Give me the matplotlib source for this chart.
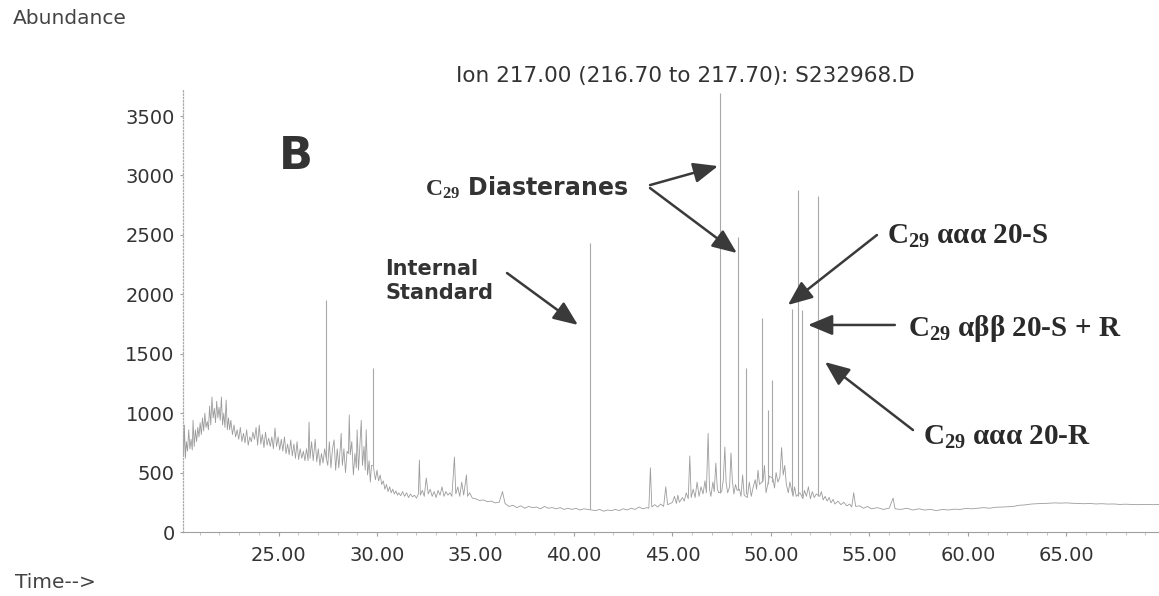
import numpy as np
import matplotlib
matplotlib.use('Agg')
import matplotlib.pyplot as plt

# m/z 217 ion chromatogram, run S232968.D
# noisy hump at the start of the run (time in min, abundance)
early_trace = [
    (20.10, 600), (20.14, 880), (20.18, 640), (20.22, 900), (20.27, 620), (20.32, 760), (20.38, 680),
    (20.44, 860), (20.50, 700), (20.56, 780), (20.62, 690), (20.66, 940), (20.72, 720), (20.78, 860),
    (20.84, 760), (20.90, 880), (20.96, 800), (21.02, 920), (21.08, 820), (21.14, 960), (21.20, 850),
    (21.26, 1000), (21.32, 880), (21.38, 930), (21.44, 860), (21.50, 1060), (21.56, 900), (21.62, 1136),
    (21.68, 960), (21.74, 1040), (21.80, 920), (21.86, 1100), (21.92, 960), (21.98, 1050), (22.04, 940),
    (22.10, 1136), (22.16, 900), (22.22, 1000), (22.28, 880), (22.34, 1110), (22.40, 860), (22.46, 960),
    (22.52, 860), (22.58, 940), (22.66, 820), (22.74, 900), (22.82, 800), (22.90, 860), (22.98, 780),
    (23.06, 880), (23.14, 760), (23.22, 830), (23.30, 750), (23.38, 860), (23.46, 730), (23.54, 800),
    (23.62, 760), (23.70, 840), (23.78, 780), (23.86, 880), (23.94, 730), (24.02, 900), (24.10, 740),
    (24.18, 820), (24.26, 710), (24.34, 840), (24.42, 730), (24.50, 790), (24.58, 720), (24.66, 800),
    (24.74, 700), (24.82, 875), (24.90, 720), (24.98, 800), (25.06, 690), (25.14, 780), (25.22, 680),
    (25.30, 800), (25.38, 660), (25.46, 740), (25.54, 650), (25.62, 775), (25.70, 640), (25.78, 740),
    (25.86, 620), (25.94, 760), (26.02, 610), (26.10, 700), (26.18, 620), (26.26, 680), (26.34, 600),
    (26.42, 700), (26.50, 600), (26.55, 925), (26.60, 620), (26.68, 760), (26.76, 600), (26.86, 780),
    (26.94, 590), (27.02, 700), (27.10, 560), (27.18, 660), (27.26, 580), (27.34, 700), (27.42, 620),
    (27.50, 560), (27.58, 760), (27.66, 540), (27.74, 700), (27.82, 775), (27.90, 520), (27.98, 700),
    (28.06, 540), (28.14, 720), (28.18, 830), (28.24, 560), (28.32, 700), (28.40, 500), (28.48, 680),
    (28.55, 660), (28.59, 985), (28.64, 650), (28.72, 760), (28.80, 480), (28.88, 660), (28.95, 540),
    (28.99, 860), (29.06, 520), (29.14, 760), (29.20, 940), (29.26, 560), (29.34, 720), (29.40, 520),
    (29.45, 860), (29.52, 480), (29.60, 600), (29.66, 420), (29.72, 560), (29.81, 560), (29.86, 500),
    (29.92, 440), (30.00, 520), (30.08, 430), (30.16, 480), (30.24, 400), (30.32, 430), (30.40, 360),
    (30.48, 400), (30.56, 340), (30.64, 380), (30.72, 330), (30.80, 360), (30.88, 320), (30.96, 345),
    (31.04, 310),
]

# quiet stretch up to the sterane window
mid_trace = [
    (31.10, 330), (31.20, 305), (31.30, 340), (31.40, 300), (31.50, 330), (31.60, 290), (31.70, 320),
    (31.80, 295), (31.90, 310), (32.00, 285), (32.10, 320), (32.15, 605), (32.20, 310), (32.30, 350),
    (32.40, 300), (32.50, 455), (32.60, 320), (32.70, 360), (32.80, 300), (32.90, 340), (33.00, 290),
    (33.10, 350), (33.20, 310), (33.30, 380), (33.40, 300), (33.50, 340), (33.60, 310), (33.70, 330),
    (33.80, 300), (33.93, 630), (34.00, 320), (34.10, 380), (34.20, 300), (34.30, 420), (34.40, 310),
    (34.54, 480), (34.60, 300), (34.70, 330), (34.84, 285), (35.00, 280), (35.20, 265), (35.40, 270),
    (35.60, 255), (35.80, 260), (36.00, 245), (36.20, 250), (36.37, 340), (36.50, 240), (36.70, 215),
    (36.90, 225), (37.10, 205), (37.30, 220), (37.50, 200), (37.70, 215), (37.90, 205), (38.10, 210),
    (38.30, 195), (38.50, 215), (38.70, 200), (38.90, 205), (39.10, 195), (39.30, 205), (39.50, 190),
    (39.70, 200), (39.90, 190), (40.10, 200), (40.30, 185), (40.50, 195), (40.70, 190), (40.90, 185),
    (41.10, 180), (41.30, 190), (41.50, 175), (41.70, 185), (41.90, 180), (42.10, 190), (42.30, 180),
    (42.50, 195), (42.70, 185), (42.90, 200), (43.10, 190), (43.30, 210), (43.50, 195), (43.70, 205),
    (43.80, 200), (43.88, 540), (43.95, 210), (44.10, 230), (44.25, 210), (44.40, 235), (44.55, 215),
    (44.66, 380), (44.75, 230), (44.90, 240),
]

# sterane cluster
cluster_trace = [
    (45.00, 250), (45.10, 300), (45.20, 240), (45.27, 310), (45.35, 250), (45.50, 290), (45.60, 260),
    (45.70, 330), (45.80, 280), (45.88, 640), (45.95, 290), (46.05, 360), (46.15, 290), (46.25, 420),
    (46.35, 300), (46.45, 380), (46.55, 320), (46.65, 430), (46.72, 330), (46.81, 830), (46.88, 360),
    (46.95, 300), (47.05, 420), (47.12, 340), (47.20, 580), (47.28, 360), (47.35, 330), (47.50, 340),
    (47.58, 440), (47.66, 715), (47.72, 420), (47.80, 330), (47.90, 380), (47.97, 665), (48.04, 430),
    (48.12, 320), (48.20, 400), (48.28, 350), (48.40, 360), (48.48, 300), (48.56, 480), (48.64, 310),
    (48.80, 290), (48.90, 420), (49.00, 300), (49.10, 380), (49.20, 440), (49.27, 360), (49.34, 520),
    (49.42, 400), (49.60, 430), (49.67, 560), (49.75, 330), (49.92, 470), (50.10, 450), (50.18, 370),
    (50.26, 500), (50.35, 420), (50.45, 460), (50.54, 710), (50.62, 480), (50.70, 560), (50.78, 400),
    (50.88, 330), (50.96, 420), (51.12, 300), (51.20, 380), (51.28, 300), (51.47, 330), (51.62, 280),
    (51.70, 350), (51.80, 300), (51.90, 380), (52.00, 280), (52.10, 340), (52.20, 290), (52.30, 320),
    (52.48, 300), (52.56, 340), (52.65, 270), (52.75, 300), (52.85, 260), (52.95, 290), (53.05, 245),
    (53.15, 275), (53.25, 235), (53.40, 260), (53.55, 230), (53.70, 250), (53.85, 220), (54.00, 235),
    (54.10, 210), (54.20, 330), (54.30, 215),
]

# late baseline
late_trace = [
    (54.50, 220), (54.70, 200), (54.90, 215), (55.10, 195), (55.40, 205), (55.70, 190), (56.00, 200),
    (56.20, 285), (56.30, 195), (56.60, 190), (56.90, 200), (57.20, 185), (57.50, 195), (57.80, 185),
    (58.10, 190), (58.40, 180), (58.70, 190), (59.00, 185), (59.30, 192), (59.60, 190), (59.90, 198),
    (60.20, 195), (60.50, 200), (60.80, 205), (61.10, 200), (61.40, 208), (61.70, 210), (62.00, 212),
    (62.30, 215), (62.60, 225), (62.90, 228), (63.20, 235), (63.50, 238), (63.80, 240), (64.10, 242),
    (64.40, 245), (64.70, 243), (65.00, 245), (65.30, 242), (65.60, 240), (65.90, 238), (66.20, 240),
    (66.50, 236), (66.80, 238), (67.10, 235), (67.40, 236), (67.70, 232), (68.00, 234), (68.30, 232),
    (68.60, 230), (69.00, 232), (69.40, 230), (69.80, 232),
]

# resolved peaks: retention time, apex abundance, abundance at foot
peak_time = [27.42, 29.81, 40.79, 47.41, 48.32, 48.73, 49.53, 49.85, 50.03, 51.05, 51.38, 51.56, 52.39]
peak_height = [1950, 1380, 2430, 3690, 2480, 1380, 1800, 1030, 1280, 1880, 2880, 1870, 2830]
peak_base = [620, 560, 190, 330, 350, 320, 420, 400, 420, 330, 300, 300, 300]

y_ticks = [0, 500, 1000, 1500, 2000, 2500, 3000, 3500]
x_ticks = [25, 30, 35, 40, 45, 50, 55, 60, 65]

plt.rcParams['font.family'] = ['DejaVu Sans']
plt.rcParams['mathtext.fontset'] = 'custom'
plt.rcParams['mathtext.rm'] = 'Liberation Serif:bold'
plt.rcParams['mathtext.it'] = 'Liberation Serif:bold'
plt.rcParams['mathtext.bf'] = 'Liberation Serif:bold'

trace = np.array(early_trace + mid_trace + cluster_trace + late_trace)

fig = plt.figure(figsize=(11.59, 5.96), dpi=100)
ax = fig.add_axes([183 / 1159, 64 / 596, 976 / 1159, 442 / 596])

ax.plot(trace[:, 0], trace[:, 1], color='#9c9c9c', lw=0.6)
ax.vlines(peak_time, peak_base, peak_height, color='#a8a8a8', lw=0.8)

ax.set_xlim(20.15, 69.7)
ax.set_ylim(0, 3719)

for side in ['top', 'right']:
    ax.spines[side].set_visible(False)
ax.spines['left'].set_color('#aaaaaa')
ax.spines['left'].set_linestyle(':')
ax.spines['left'].set_linewidth(0.9)
ax.spines['bottom'].set_color('#a0a0a0')
ax.spines['bottom'].set_linewidth(0.8)

ax.set_yticks(y_ticks)
ax.set_yticklabels([str(v) for v in y_ticks])
ax.set_xticks(x_ticks)
ax.set_xticklabels(['%.2f' % v for v in x_ticks])
ax.set_xticks(np.arange(21, 70, 1), minor=True)
ax.tick_params(axis='both', labelsize=14, colors='#a0a0a0', labelcolor='#333333')
ax.tick_params(axis='y', length=2, pad=4)
ax.tick_params(axis='x', length=3, pad=7)
ax.tick_params(axis='x', which='minor', length=2, colors='#bbbbbb')

fig.text(13 / 1159, 1 - 18 / 596, 'Abundance', fontsize=14.5, color='#444444', va='center', ha='left')
fig.text(15 / 1159, 1 - 582 / 596, 'Time-->', fontsize=14.5, color='#444444', va='center', ha='left')
fig.text(685 / 1159, 1 - 76 / 596, 'Ion 217.00 (216.70 to 217.70): S232968.D', fontsize=15.5,
         color='#333333', va='center', ha='center')

ax.text(25.89, 3163, 'B', fontsize=32, fontweight='bold', color='#333333', ha='center', va='center')

arrow = dict(arrowstyle='-|>,head_length=0.6,head_width=0.25', mutation_scale=25,
             color='#3a3a3a', lw=1.8, shrinkA=0, shrinkB=0)

ax.text(30.41, 2112, 'Internal\nStandard', fontsize=15, fontweight='bold', color='#333333',
        ha='left', va='center', linespacing=1.3)
ax.annotate('', xy=(40.20, 1742), xytext=(36.60, 2179), arrowprops=arrow)

ax.text(32.44, 2894, r'$\mathrm{C}_{29}$ Diasteranes', fontsize=17, fontweight='bold', color='#333333',
        ha='left', va='center')
ax.annotate('', xy=(47.31, 3079), xytext=(43.86, 2919), arrowprops=arrow)
ax.annotate('', xy=(48.27, 2347), xytext=(43.86, 2894), arrowprops=arrow)

serif = dict(fontsize=21, fontweight='bold', family='Liberation Serif', color='#2a2a2a',
             ha='left', va='center')
ax.text(55.89, 2490, r'C$_{29}$ ααα 20-S', **serif)
ax.annotate('', xy=(50.86, 1910), xytext=(55.38, 2499), arrowprops=arrow)
ax.text(56.95, 1716, r'C$_{29}$ αββ 20-S + R', **serif)
ax.annotate('', xy=(51.88, 1742), xytext=(56.29, 1742), arrowprops=arrow)
ax.text(57.72, 799, r'C$_{29}$ ααα 20-R', **serif)
ax.annotate('', xy=(52.74, 1430), xytext=(57.21, 858), arrowprops=arrow)

fig.savefig('out.png', dpi=100)
